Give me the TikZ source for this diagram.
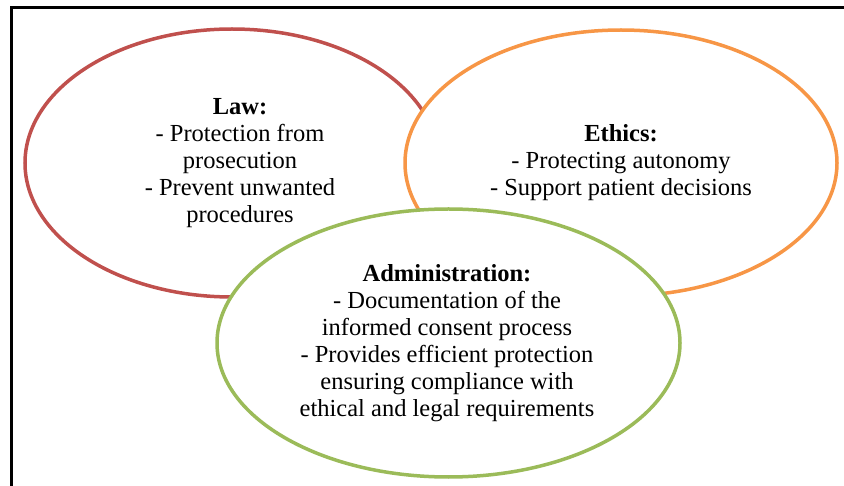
\documentclass[tikz,border=0pt]{standalone}
\usepackage{fontspec}
\setmainfont{Liberation Serif}
\usetikzlibrary{shapes.geometric}
\definecolor{lawred}{HTML}{C0504D}
\definecolor{ethorange}{HTML}{F79646}
\definecolor{admgreen}{HTML}{9BBB59}
\tikzset{
  circ/.style={ellipse, draw, line width=3.5pt, fill=white, inner sep=0pt},
  lbl/.style={align=center, inner sep=0pt, font=\fontsize{24.5}{27}\selectfont},
}
\begin{document}
\begin{tikzpicture}[x=1pt, y=-1pt]
\useasboundingbox (0,0) rectangle (844,486);
\coordinate (fbl) at (11,486);
\coordinate (ftl) at (11,8);
\coordinate (ftr) at (844,8);
\draw[line width=3pt] (fbl) -- (ftl) -- (ftr);
\node[circ, draw=lawred, minimum width=414pt, minimum height=268pt] (law) at (232,163) {};
\node[circ, draw=ethorange, minimum width=432pt, minimum height=266pt] (ethics) at (621,163) {};
\node[circ, draw=admgreen, minimum width=463pt, minimum height=268pt] (admin) at (448.5,343) {};
\node[lbl] (lawt) at (240,163) {\textbf{Law:}\\- Protection from\\prosecution\\- Prevent unwanted\\procedures};
\node[lbl] (etht) at (621,163) {\textbf{Ethics:}\\- Protecting autonomy\\- Support patient decisions};
\node[lbl] (admt) at (447,343) {\textbf{Administration:}\\- Documentation of the\\informed consent process\\- Provides efficient protection\\ensuring compliance with\\ethical and legal requirements};
\end{tikzpicture}
\end{document}
